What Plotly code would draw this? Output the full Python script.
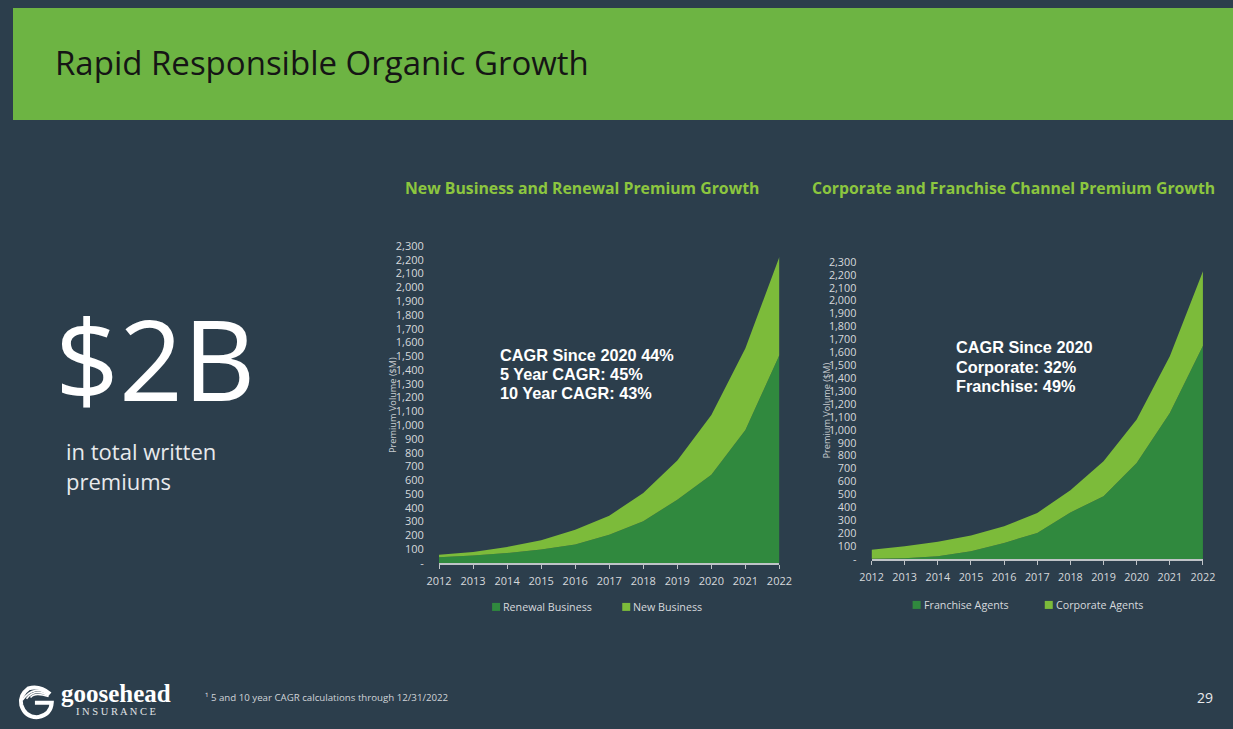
import plotly.graph_objects as go

# Figure canvas; positions below are given in target-picture pixels and mapped
# through the (measured) placement of the figure in the photographed page.
W, H = 1250, 745
SX, OX = 0.978, 14.5
SY, OY = 0.980, 8.0

years = list(range(2012, 2023))
year_labels = [str(y) for y in years]

# Left chart: New Business and Renewal Premium Growth ($M)
renewal_business = [41, 53, 72, 97, 133, 205, 302, 459, 640, 965, 1509]
new_business = [19, 27, 44, 67, 108, 138, 205, 284, 434, 592, 712]

# Right chart: Corporate and Franchise Channel Premium Growth ($M)
franchise_agents = [2, 5, 20, 59, 124, 201, 360, 485, 743, 1131, 1652]
corporate_agents = [70, 93, 114, 122, 129, 155, 172, 271, 336, 438, 576]

y_tick_vals = list(range(0, 2400, 100))
y_tick_text = ["-"] + [f"{v:,}" for v in y_tick_vals[1:]]

BG = "#2C3E4C"
HEADER = "#6DB443"
DARK = "#30893E"
LIGHT = "#7CBB3A"
SUB = "#8CC63F"
TICK = "#D6D9DC"


def px(x):
    return min(max(((x - OX) / SX) / W, 0), 1)


def py(y):
    return min(max(1 - ((y - OY) / SY) / H, 0), 1)


fig = go.Figure()

fig.add_trace(go.Scatter(x=years, y=renewal_business, name="Renewal Business",
                         stackgroup="a", mode="none", fillcolor=DARK,
                         line=dict(width=0), xaxis="x", yaxis="y", showlegend=False))
fig.add_trace(go.Scatter(x=years, y=new_business, name="New Business",
                         stackgroup="a", mode="none", fillcolor=LIGHT,
                         line=dict(width=0), xaxis="x", yaxis="y", showlegend=False))
fig.add_trace(go.Scatter(x=years, y=franchise_agents, name="Franchise Agents",
                         stackgroup="b", mode="none", fillcolor=DARK,
                         line=dict(width=0), xaxis="x2", yaxis="y2", showlegend=False))
fig.add_trace(go.Scatter(x=years, y=corporate_agents, name="Corporate Agents",
                         stackgroup="b", mode="none", fillcolor=LIGHT,
                         line=dict(width=0), xaxis="x2", yaxis="y2", showlegend=False))


def xaxis_cfg(x0, x1, anchor, fs):
    return dict(domain=[px(x0), px(x1)], range=[2012, 2022], anchor=anchor,
                tickvals=years, ticktext=year_labels, showgrid=False, zeroline=False,
                showline=True, linecolor="#BFC3C7", linewidth=1.5,
                ticks="outside", ticklen=4, tickcolor="#BFC3C7", tickwidth=1,
                ticklabelstandoff=3,
                tickfont=dict(family="Open Sans", size=fs, color=TICK), fixedrange=True)


def yaxis_cfg(y0, y1, anchor, fs):
    return dict(domain=[py(y0), py(y1)], range=[0, 2300], anchor=anchor,
                tickvals=y_tick_vals, ticktext=y_tick_text, showgrid=False,
                zeroline=False, showline=False, ticks="outside", ticklen=12,
                tickcolor="rgba(0,0,0,0)",
                tickfont=dict(family="Open Sans", size=fs, color=TICK), fixedrange=True)


fig.update_layout(
    width=W, height=H,
    margin=dict(l=0, r=0, t=0, b=0),
    paper_bgcolor=BG, plot_bgcolor="rgba(0,0,0,0)",
    xaxis=xaxis_cfg(440, 780, "y", 11),
    yaxis=yaxis_cfg(563, 246, "x", 11),
    xaxis2=xaxis_cfg(872, 1203, "y2", 10.8),
    yaxis2=yaxis_cfg(559, 262, "x2", 10.8),
    showlegend=False,
)

shapes = [
    dict(type="rect", xref="paper", yref="paper", x0=0, x1=1, y0=py(120), y1=1,
         fillcolor=HEADER, line=dict(width=0), layer="below"),
]

for (x0, y0, c) in [(493, 603, DARK), (623, 603, LIGHT), (913, 601, DARK), (1045, 601, LIGHT)]:
    shapes.append(dict(type="rect", xref="paper", yref="paper", x0=px(x0), x1=px(x0 + 8),
                       y0=py(y0 + 8), y1=py(y0), fillcolor=c, line=dict(width=0)))

# logo icon (stylized G)
cx, cy, r = 38, 702, 16
shapes.append(dict(type="path", xref="paper", yref="paper",
                   path=(f"M {px(cx + r*0.85)},{py(cy - r*0.5)} "
                         f"Q {px(cx + r*0.2)},{py(cy - r*1.05)} {px(cx - r*0.5)},{py(cy - r*0.85)} "
                         f"Q {px(cx - r*1.1)},{py(cy - r*0.4)} {px(cx - r*0.95)},{py(cy + r*0.2)} "
                         f"Q {px(cx - r*0.7)},{py(cy + r*1.0)} {px(cx + r*0.1)},{py(cy + r*0.95)} "
                         f"Q {px(cx + r*0.9)},{py(cy + r*0.8)} {px(cx + r*0.95)},{py(cy + r*0.05)} "
                         f"L {px(cx - r*0.1)},{py(cy + r*0.05)}"),
                   line=dict(color="white", width=4)))
for k in range(3):
    off = k * 4
    shapes.append(dict(type="path", xref="paper", yref="paper",
                       path=(f"M {px(cx - 14 + off)},{py(cy - 2 - off*0.3)} "
                             f"Q {px(cx - 2)},{py(cy - 18 + off)} {px(cx + 12)},{py(cy - 7 + off*0.2)}"),
                       line=dict(color="white", width=1.6)))

annotations = []


def txt(x, y, text, size, color="white", family="Open Sans", xanchor="left",
        yanchor="middle", bold=False, angle=0):
    if bold:
        text = f"<b>{text}</b>"
    annotations.append(dict(xref="paper", yref="paper", x=px(x), y=py(y), text=text,
                            showarrow=False, xanchor=xanchor, yanchor=yanchor,
                            textangle=angle,
                            font=dict(family=family, size=size, color=color)))


txt(54, 63, "Rapid Responsible Organic Growth", 33, color="#151515")
txt(583, 188, "New Business and Renewal Premium Growth", 15.8, color=SUB, xanchor="center", bold=True)
txt(1014, 188, "Corporate and Franchise Channel Premium Growth", 15.8, color=SUB, xanchor="center", bold=True)

txt(54, 358, "$2B", 112, color="white")
txt(65, 451, "in total written", 22, color="#E8EAEC")
txt(65, 481, "premiums", 22, color="#E8EAEC")

txt(394, 405, "Premium Volume ($M)", 9.2, color="#C8CCD0", xanchor="center", angle=-90)
txt(827, 410, "Premium Volume ($M)", 9.2, color="#C8CCD0", xanchor="center", angle=-90)

af = "Liberation Sans"
cf = 16.3
txt(499, 355, "CAGR Since 2020 44%", cf, family=af, bold=True)
txt(499, 374, "5 Year CAGR: 45%", cf, family=af, bold=True)
txt(499, 393, "10 Year CAGR: 43%", cf, family=af, bold=True)

txt(954, 347, "CAGR Since 2020", cf, family=af, bold=True)
txt(954, 367, "Corporate: 32%", cf, family=af, bold=True)
txt(954, 386, "Franchise: 49%", cf, family=af, bold=True)

lf = 10.7
txt(502, 607, "Renewal Business", lf, color=TICK)
txt(632, 607, "New Business", lf, color=TICK)
txt(922, 605, "Franchise Agents", lf, color=TICK)
txt(1054, 605, "Corporate Agents", lf, color=TICK)

txt(204, 698, "¹ 5 and 10 year CAGR calculations through 12/31/2022", 9.7, color="#D0D4D8")
txt(1215, 698, "29", 14, color="#E8EAEC", xanchor="right")

txt(60, 694, "goosehead", 25, color="white", family="Liberation Serif", bold=True)
txt(75, 712, "I N S U R A N C E", 10.5, color="#E0E3E6", family="Liberation Serif")

fig.update_layout(shapes=shapes, annotations=annotations)

fig.write_html("out.html", config={"displayModeBar": False})
